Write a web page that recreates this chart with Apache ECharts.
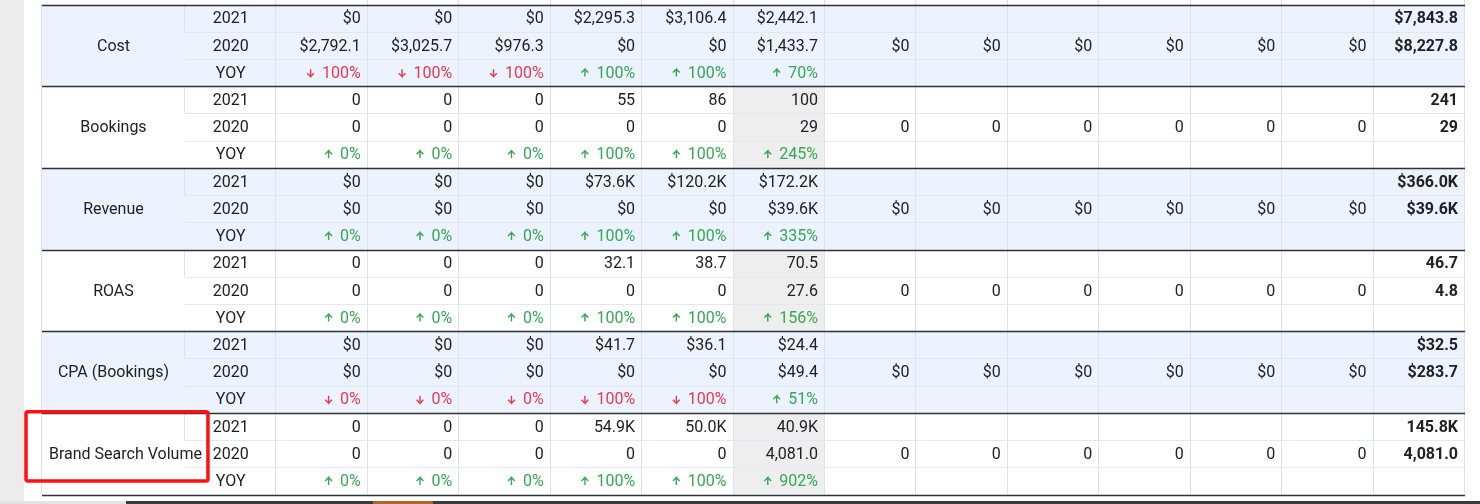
<!DOCTYPE html>
<html>
<head>
<meta charset="utf-8">
<script src="https://cdn.jsdelivr.net/npm/echarts@6/dist/echarts.min.js"></script>
<style>
html, body { margin: 0; padding: 0; background: #fff; }
#table1 { width: 1480px; height: 504px; }
</style>
</head>
<body>
<div id="table1"></div>
<script>
/*---------------------- 年度对比表 -----------------------*/
var metricNames = ['Cost', 'Bookings', 'Revenue', 'ROAS', 'CPA (Bookings)', 'Brand Search Volume'];
var rowNames = ['2021', '2020', 'YOY'];
var monthCount = 12;      // 12个月 + Total列
var highlightMonth = 5;   // 灰色高亮的月份列

var cost2021 = [0, 0, 0, 2295.3, 3106.4, 2442.1];
var cost2020 = [2792.1, 3025.7, 976.3, 0, 0, 1433.7, 0, 0, 0, 0, 0, 0];
var costYoy = [-100, -100, -100, 100, 100, 70];
var costTotal = [7843.8, 8227.8];

var bookings2021 = [0, 0, 0, 55, 86, 100];
var bookings2020 = [0, 0, 0, 0, 0, 29, 0, 0, 0, 0, 0, 0];
var bookingsYoy = [0, 0, 0, 100, 100, 245];
var bookingsTotal = [241, 29];

var revenue2021 = [0, 0, 0, 73600, 120200, 172200];
var revenue2020 = [0, 0, 0, 0, 0, 39600, 0, 0, 0, 0, 0, 0];
var revenueYoy = [0, 0, 0, 100, 100, 335];
var revenueTotal = [366000, 39600];

var roas2021 = [0, 0, 0, 32.1, 38.7, 70.5];
var roas2020 = [0, 0, 0, 0, 0, 27.6, 0, 0, 0, 0, 0, 0];
var roasYoy = [0, 0, 0, 100, 100, 156];
var roasTotal = [46.7, 4.8];

var cpa2021 = [0, 0, 0, 41.7, 36.1, 24.4];
var cpa2020 = [0, 0, 0, 0, 0, 49.4, 0, 0, 0, 0, 0, 0];
var cpaYoy = [-0, -0, -0, -100, -100, 51];   // -0 表示下降箭头 0%
var cpaTotal = [32.5, 283.7];

var brand2021 = [0, 0, 0, 54900, 50000, 40900];
var brand2020 = [0, 0, 0, 0, 0, 4081.0, 0, 0, 0, 0, 0, 0];
var brandYoy = [0, 0, 0, 100, 100, 902];
var brandTotal = [145800, 4081.0];

// 格式化
function dec1(v) {
    return v.toLocaleString('en-US', {minimumFractionDigits: 1, maximumFractionDigits: 1});
}
function fmtMoney(v) { return v === 0 ? '$0' : '$' + dec1(v); }
function fmtInt(v) { return String(v); }
function fmtMoneyK(v) { return v === 0 ? '$0' : '$' + (v / 1000).toFixed(1) + 'K'; }
function fmtDec(v) { return v === 0 ? '0' : v.toFixed(1); }
function fmtVolume(v) {
    if (v === 0) return '0';
    return v >= 10000 ? (v / 1000).toFixed(1) + 'K' : dec1(v);
}

var tableRows = [
    {y21: cost2021, y20: cost2020, yoy: costYoy, total: costTotal, fmt: fmtMoney},
    {y21: bookings2021, y20: bookings2020, yoy: bookingsYoy, total: bookingsTotal, fmt: fmtInt},
    {y21: revenue2021, y20: revenue2020, yoy: revenueYoy, total: revenueTotal, fmt: fmtMoneyK},
    {y21: roas2021, y20: roas2020, yoy: roasYoy, total: roasTotal, fmt: fmtDec},
    {y21: cpa2021, y20: cpa2020, yoy: cpaYoy, total: cpaTotal, fmt: fmtMoney},
    {y21: brand2021, y20: brand2020, yoy: brandYoy, total: brandTotal, fmt: fmtVolume}
];

var RED = '#e8394f', GREEN = '#34a853', TEXT = '#202124';
var FONT_SIZE = 16, PAD = 7;
var xMin = -2.5635;   // 第一列比月份列宽
var xMax = monthCount + 1;
var rowCount = metricNames.length * 3;

var fills = [], lines = [], texts = [];

// 竖线
for (var c = 0; c <= xMax; c++) {
    lines.push({p: [c, -0.25, c, rowCount], color: '#dfe2e8', w: 1});
}
lines.push({p: [xMin, 0, xMin, rowCount], color: '#dfe2e8', w: 1});

tableRows.forEach(function (m, g) {
    var top = g * 3;
    if (g % 2 === 0) {
        fills.push({p: [xMin, top, xMax, top + 3], color: '#ecf2fe'});
    } else {
        fills.push({p: [highlightMonth, top, highlightMonth + 1, top + 3], color: '#eeeeee'});
    }
    lines.push({p: [-1, top, -1, top + 1], color: '#dfe2e8', w: 1});
    lines.push({p: [-1, top + 1, xMax, top + 1], color: '#e4e7ec', w: 1});
    lines.push({p: [-1, top + 2, xMax, top + 2], color: '#e4e7ec', w: 1});

    texts.push({x: (xMin - 1) / 2, y: top + 1.5, text: metricNames[g], align: 'center', label: true});
    rowNames.forEach(function (r, k) {
        texts.push({x: -0.5, y: top + k + 0.5, text: r, align: 'center'});
    });
    m.y21.forEach(function (v, i) {
        texts.push({x: i + 1, y: top + 0.5, text: m.fmt(v), align: 'right'});
    });
    m.y20.forEach(function (v, i) {
        texts.push({x: i + 1, y: top + 1.5, text: m.fmt(v), align: 'right'});
    });
    m.yoy.forEach(function (v, i) {
        var down = v < 0 || Object.is(v, -0);
        texts.push({
            x: i + 1, y: top + 2.5, align: 'right',
            arrow: down ? 'down' : 'up',
            color: down ? RED : GREEN,
            text: Math.abs(v) + '%'
        });
    });
    m.total.forEach(function (v, k) {
        texts.push({x: xMax, y: top + k + 0.5, text: m.fmt(v), align: 'right', bold: true});
    });
});
for (var g = 0; g <= metricNames.length; g++) {
    lines.push({p: [xMin, g * 3, xMax, g * 3], color: '#2f3237', w: 1.3});
}

function toData(arr) {
    return arr.map(function (d) { return d.p ? [d.p[0], d.p[1]] : [d.x, d.y]; });
}

// 文字宽度
var measureCtx = document.createElement('canvas').getContext('2d');
function textWidth(str) {
    measureCtx.font = FONT_SIZE + 'px Roboto';
    return measureCtx.measureText(str).width;
}

// 箭头图标
function arrowShape(cx, cy, dir, color) {
    var h = 3.7, s = dir === 'up' ? -1 : 1;
    return {
        type: 'polyline',
        shape: {points: [[cx, cy - s * h], [cx, cy + s * h], [cx - 3.4, cy + s * (h - 3.4)],
            [cx, cy + s * h], [cx + 3.4, cy + s * (h - 3.4)]]},
        style: {stroke: color, lineWidth: 1.4, fill: null, lineJoin: 'miter'}
    };
}

var table1 = echarts.init(document.getElementById('table1'));

var option = {
    animation: false,
    backgroundColor: '#fff',
    grid: {left: 42, right: 15, top: 4.5, bottom: 9.5},
    xAxis: {type: 'value', min: xMin, max: xMax, show: false},
    yAxis: {type: 'value', min: 0, max: rowCount, inverse: true, show: false},
    graphic: [
        {type: 'rect', shape: {x: 0, y: 0, width: 24, height: 501}, style: {fill: '#ececec'}, z: -1},
        {type: 'rect', shape: {x: 0, y: 501, width: 126, height: 3}, style: {fill: '#e4e4e4'}},
        {type: 'rect', shape: {x: 126, y: 501, width: 1354, height: 3}, style: {fill: '#3b3b3b'}},
        {type: 'rect', shape: {x: 373, y: 501, width: 60, height: 3}, style: {fill: '#b0652a'}}
    ],
    series: [
        {   // 背景色
            type: 'custom', z: 1, clip: false, silent: true,
            data: toData(fills),
            renderItem: function (params, api) {
                var d = fills[params.dataIndex];
                var a = api.coord([d.p[0], d.p[1]]);
                var b = api.coord([d.p[2], d.p[3]]);
                return {type: 'rect', shape: {x: a[0], y: a[1], width: b[0] - a[0], height: b[1] - a[1]},
                    style: {fill: d.color}};
            }
        },
        {   // 表格线
            type: 'custom', z: 2, clip: false, silent: true,
            data: toData(lines),
            renderItem: function (params, api) {
                var d = lines[params.dataIndex];
                var a = api.coord([d.p[0], d.p[1]]);
                var b = api.coord([d.p[2], d.p[3]]);
                if (a[0] === b[0]) { a[0] = b[0] = Math.round(a[0]) - 0.5; }
                else { a[1] = b[1] = Math.round(a[1]) + 0.5; }
                return {type: 'line', shape: {x1: a[0], y1: a[1], x2: b[0], y2: b[1]},
                    style: {stroke: d.color, lineWidth: d.w}};
            }
        },
        {   // 文字
            type: 'custom', z: 3, clip: false, silent: true,
            data: toData(texts),
            renderItem: function (params, api) {
                var d = texts[params.dataIndex];
                var p = api.coord([d.x, d.y]);
                var x = p[0], align = d.align;
                if (align === 'right') x -= PAD;
                if (d.label) {
                    var left = api.coord([xMin, d.y])[0];
                    var right = api.coord([-1, d.y])[0];
                    if (textWidth(d.text) > right - left - 2 * PAD) {
                        x = left + PAD;
                        align = 'left';
                    }
                }
                var txt = {
                    type: 'text',
                    style: {
                        text: d.text, x: x, y: p[1] + 1.2,
                        align: align, verticalAlign: 'middle',
                        fontFamily: 'Roboto', fontSize: FONT_SIZE,
                        fontWeight: d.bold ? 'bold' : 'normal',
                        fill: d.color || TEXT
                    }
                };
                if (!d.arrow) return txt;
                var ax = x - textWidth(d.text) - 11.5;
                return {type: 'group', children: [txt, arrowShape(ax, p[1] + 0.3, d.arrow, d.color)]};
            }
        },
        {   // 红框标注
            type: 'custom', z: 4, clip: false, silent: true,
            data: [[xMin, 15]],
            renderItem: function (params, api) {
                var top = (metricNames.length - 1) * 3;
                var a = api.coord([xMin, top]);
                var b = api.coord([-1, top + 2.5]);
                return {type: 'rect',
                    shape: {x: a[0] - 16, y: a[1] - 1, width: b[0] - a[0] + 39, height: b[1] - a[1] + 1, r: 2},
                    style: {fill: 'none', stroke: '#ff1010', lineWidth: 3.5}};
            }
        }
    ]
};

table1.setOption(option);
</script>
</body>
</html>
